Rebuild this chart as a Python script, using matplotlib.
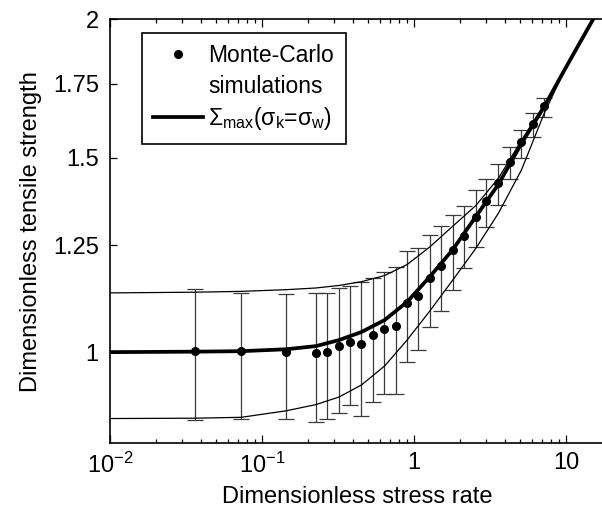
import matplotlib
matplotlib.use("Agg")
import matplotlib.pyplot as plt
from matplotlib.lines import Line2D
from matplotlib.ticker import NullLocator, FixedLocator

plt.rcParams['font.family'] = ['Liberation Sans', 'DejaVu Sans']
plt.rcParams['mathtext.fontset'] = 'custom'
plt.rcParams['mathtext.rm'] = 'Liberation Sans'
plt.rcParams['mathtext.it'] = 'Liberation Sans'
plt.rcParams['mathtext.sf'] = 'Liberation Sans'

# Monte-Carlo simulations (dimensionless stress rate, strength, error bar limits)
mc_rate = [0.036, 0.073, 0.144, 0.226, 0.268, 0.32, 0.379, 0.45, 0.537, 0.638,
           0.762, 0.90, 1.067, 1.267, 1.51, 1.80, 2.14, 2.55, 3.0, 3.6,
           4.3, 5.1, 6.1, 7.2]
mc_strength = [1.003, 1.002, 1.000, 0.998, 1.001, 1.013, 1.022, 1.018, 1.037, 1.050,
               1.057, 1.108, 1.124, 1.167, 1.196, 1.236, 1.275, 1.326, 1.370, 1.423,
               1.487, 1.548, 1.608, 1.670]
mc_upper = [1.140, 1.131, 1.128, 1.131, 1.130, 1.144, 1.147, 1.157, 1.168, 1.181,
            1.195, 1.234, 1.242, 1.276, 1.301, 1.330, 1.355, 1.401, 1.434, 1.479,
            1.533, 1.588, 1.646, 1.697]
mc_lower = [0.868, 0.870, 0.870, 0.865, 0.870, 0.881, 0.895, 0.876, 0.902, 0.916,
            0.916, 0.979, 1.004, 1.054, 1.089, 1.138, 1.191, 1.245, 1.298, 1.360,
            1.433, 1.498, 1.565, 1.633]

# theory curves
th_rate = [0.01, 0.036, 0.073, 0.144, 0.226, 0.32, 0.45, 0.64, 0.9, 1.27,
           1.8, 2.55, 3.6, 5.1, 7.2, 10.0, 15.07]
sigma_max = [1.000, 1.001, 1.002, 1.006, 1.0126, 1.0253, 1.0426, 1.069, 1.110, 1.170,
             1.238, 1.326, 1.419, 1.545, 1.668, 1.81, 2.0]
band_upper = [1.1314, 1.133, 1.135, 1.139, 1.143, 1.149, 1.158, 1.173, 1.200, 1.245,
              1.300, 1.357, 1.437, 1.555, 1.675, 1.81, 2.0]
band_lower = [0.8708, 0.8714, 0.873, 0.8849, 0.8964, 0.9105, 0.9336, 0.9713, 1.0253, 1.0892,
              1.162, 1.241, 1.336, 1.462, 1.645, 1.81, 2.0]

yticks = [1, 1.25, 1.5, 1.75, 2]
ytick_labels = ['1', '1.25', '1.5', '1.75', '2']
xticks = [0.01, 0.1, 1, 10]
xtick_labels = ['$10^{-2}$', '$10^{-1}$', '1', '10']

fs = 17

fig = plt.figure(figsize=(6.02, 5.13), dpi=100)
# right spine falls just outside the picture, as in the original
ax = fig.add_axes([0.1827, 0.137, 0.8206, 0.825])

lower = [s - l for s, l in zip(mc_strength, mc_lower)]
upper = [u - s for s, u in zip(mc_strength, mc_upper)]
ax.errorbar(mc_rate, mc_strength, yerr=[lower, upper], fmt='none',
            ecolor='#3a3a3a', elinewidth=0.9, capsize=6, capthick=0.9, zorder=2)

ax.plot(th_rate, band_upper, color='black', lw=0.9, zorder=3)
ax.plot(th_rate, band_lower, color='black', lw=0.9, zorder=3)
ax.plot(th_rate, sigma_max, color='black', lw=2.7, zorder=4)
ax.plot(mc_rate, mc_strength, 'o', color='black', ms=5.5, zorder=5)

ax.set_xscale('log')
ax.set_yscale('log')
ax.set_xlim(0.01, 17.8)
ax.set_ylim(0.828, 2.0)

ax.yaxis.set_major_locator(FixedLocator(yticks))
ax.yaxis.set_minor_locator(NullLocator())
ax.set_yticklabels(ytick_labels)
ax.set_xticks(xticks)
ax.set_xticklabels(xtick_labels)

ax.tick_params(which='both', direction='in', top=True, right=False,
               labelsize=fs, width=0.9)
ax.tick_params(axis='y', which='major', length=5, pad=8)
ax.tick_params(axis='x', which='major', length=6, pad=7)
ax.tick_params(axis='x', which='minor', length=3)
for sp in ax.spines.values():
    sp.set_linewidth(1.2)

ax.set_xlabel('Dimensionless stress rate', fontsize=fs, labelpad=6)
ax.set_ylabel('Dimensionless tensile strength', fontsize=fs, labelpad=8)

handles = [Line2D([], [], marker='o', color='black', ls='none', ms=5.5),
           Line2D([], [], ls='none'),
           Line2D([], [], color='black', lw=2.7)]
labels = ['Monte-Carlo', 'simulations',
          r'Σ$_{\rm max}$(σ$_{\rm k}$=σ$_{\rm w}$)']
leg = ax.legend(handles, labels, loc='upper left', bbox_to_anchor=(0.0646, 0.968),
                borderaxespad=0, fontsize=16.5, frameon=True, fancybox=False,
                edgecolor='black', framealpha=1, handlelength=2.15,
                handletextpad=0.25, labelspacing=0.32, borderpad=0.5)
leg.get_frame().set_linewidth(1.2)

fig.savefig('out.png', dpi=100)
